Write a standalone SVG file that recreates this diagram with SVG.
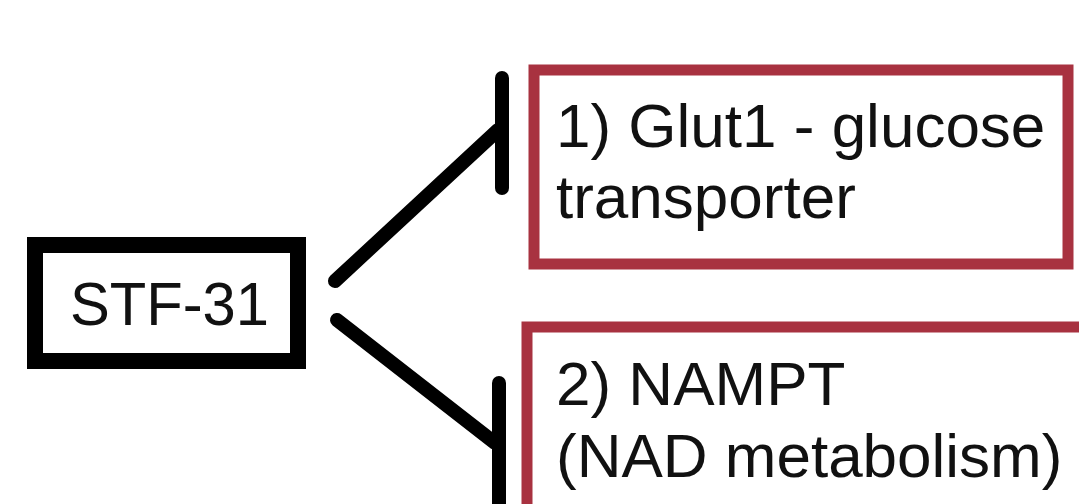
<svg xmlns="http://www.w3.org/2000/svg" width="1079" height="504" viewBox="0 0 1079 504">
<style>
.t{font-family:"Liberation Sans",Arial,sans-serif;font-size:62px;fill:#111}
.red{fill:#fff;stroke:#a83240;stroke-width:11}
.conn{stroke:#000;stroke-width:14;stroke-linecap:round;fill:none}
</style>
<rect width="1079" height="504" fill="#fff"/>
<g id="connectors">
<line class="conn" x1="335" y1="281" x2="498" y2="130"/>
<line class="conn" x1="502" y1="78" x2="502" y2="188"/>
<line class="conn" x1="337" y1="320" x2="495" y2="443"/>
<line class="conn" x1="499" y1="383" x2="499" y2="515"/>
</g>
<g id="stf31">
<rect x="35" y="245" width="263" height="116" fill="#fff" stroke="#000" stroke-width="16"/>
<text class="t" x="70" y="325" textLength="199" lengthAdjust="spacingAndGlyphs">STF-31</text>
</g>
<g id="glut1">
<rect class="red" x="534" y="70" width="534" height="194"/>
<text class="t" x="556" y="147">1) Glut1 - glucose</text>
<text class="t" x="556" y="218">transporter</text>
</g>
<g id="nampt">
<rect class="red" x="527" y="327" width="600" height="250"/>
<text class="t" x="556" y="405">2) NAMPT</text>
<text class="t" x="556" y="477">(NAD metabolism)</text>
</g>
</svg>
